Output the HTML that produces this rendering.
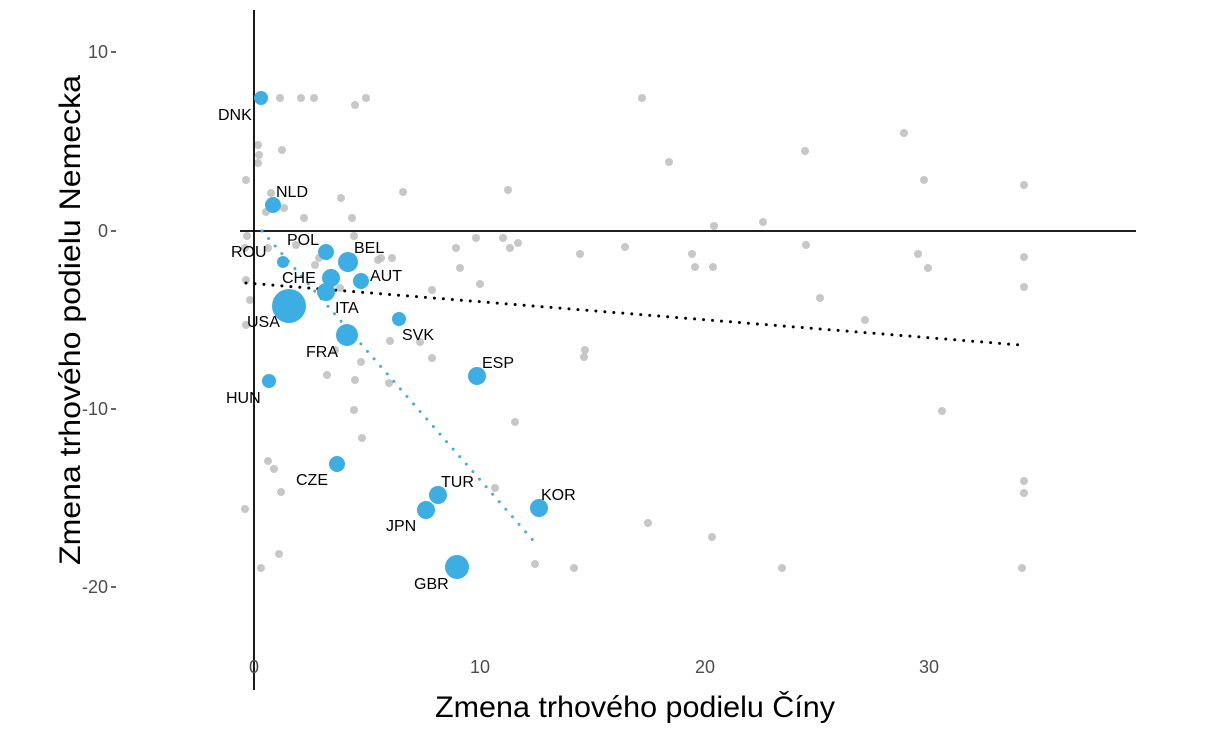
<!DOCTYPE html>
<html><head><meta charset="utf-8"><style>html,body{margin:0;padding:0;background:#fff}svg{display:block}</style></head><body>
<svg width="1224" height="731" xmlns="http://www.w3.org/2000/svg" font-family="Liberation Sans, sans-serif">
<rect width="1224" height="731" fill="#fff"/>
<g fill="#bdbdbd" fill-opacity="0.85">
<circle cx="280" cy="98" r="4"/><circle cx="301" cy="98" r="4"/><circle cx="314" cy="98" r="4"/><circle cx="355" cy="105" r="4"/><circle cx="366" cy="98" r="4"/><circle cx="642" cy="98" r="4"/><circle cx="904" cy="133" r="4"/><circle cx="805" cy="151" r="4"/><circle cx="669" cy="162" r="4"/><circle cx="924" cy="180" r="4"/><circle cx="1024" cy="185" r="4"/><circle cx="282" cy="150" r="4"/><circle cx="246" cy="180" r="4"/><circle cx="258" cy="145" r="4"/><circle cx="259" cy="155" r="4"/><circle cx="258" cy="163" r="4"/><circle cx="271" cy="193" r="4"/><circle cx="266" cy="212" r="4"/><circle cx="304" cy="218" r="4"/><circle cx="352" cy="218" r="4"/><circle cx="341" cy="198" r="4"/><circle cx="403" cy="192" r="4"/><circle cx="508" cy="190" r="4"/><circle cx="284" cy="208" r="4"/><circle cx="247" cy="236" r="4"/><circle cx="245" cy="248" r="4"/><circle cx="268" cy="248" r="4"/><circle cx="296" cy="245" r="4"/><circle cx="319" cy="258" r="4"/><circle cx="354" cy="236" r="4"/><circle cx="381" cy="258" r="4"/><circle cx="392" cy="258" r="4"/><circle cx="378" cy="260" r="4"/><circle cx="456" cy="248" r="4"/><circle cx="460" cy="268" r="4"/><circle cx="476" cy="238" r="4"/><circle cx="503" cy="238" r="4"/><circle cx="510" cy="248" r="4"/><circle cx="518" cy="243" r="4"/><circle cx="580" cy="254" r="4"/><circle cx="625" cy="247" r="4"/><circle cx="692" cy="254" r="4"/><circle cx="695" cy="267" r="4"/><circle cx="713" cy="267" r="4"/><circle cx="714" cy="226" r="4"/><circle cx="763" cy="222" r="4"/><circle cx="806" cy="245" r="4"/><circle cx="918" cy="254" r="4"/><circle cx="928" cy="268" r="4"/><circle cx="1024" cy="257" r="4"/><circle cx="1024" cy="287" r="4"/><circle cx="820" cy="298" r="4"/><circle cx="865" cy="320" r="4"/><circle cx="246" cy="280" r="4"/><circle cx="250" cy="300" r="4"/><circle cx="246" cy="325" r="4"/><circle cx="315" cy="265" r="4"/><circle cx="340" cy="288" r="4"/><circle cx="432" cy="290" r="4"/><circle cx="390" cy="341" r="4"/><circle cx="432" cy="358" r="4"/><circle cx="361" cy="362" r="4"/><circle cx="355" cy="380" r="4"/><circle cx="327" cy="375" r="4"/><circle cx="480" cy="284" r="4"/><circle cx="585" cy="350" r="4"/><circle cx="584" cy="357" r="4"/><circle cx="942" cy="411" r="4"/><circle cx="354" cy="410" r="4"/><circle cx="389" cy="383" r="4"/><circle cx="362" cy="438" r="4"/><circle cx="515" cy="422" r="4"/><circle cx="268" cy="461" r="4"/><circle cx="274" cy="469" r="4"/><circle cx="281" cy="492" r="4"/><circle cx="495" cy="488" r="4"/><circle cx="245" cy="509" r="4"/><circle cx="648" cy="523" r="4"/><circle cx="712" cy="537" r="4"/><circle cx="1024" cy="481" r="4"/><circle cx="1024" cy="493" r="4"/><circle cx="279" cy="554" r="4"/><circle cx="261" cy="568" r="4"/><circle cx="535" cy="564" r="4"/><circle cx="574" cy="568" r="4"/><circle cx="782" cy="568" r="4"/><circle cx="1022" cy="568" r="4"/><circle cx="335" cy="350" r="4"/><circle cx="420" cy="342" r="4"/>
</g>
<line x1="254" y1="10" x2="254" y2="690" stroke="#000" stroke-width="1.8"/>
<line x1="240" y1="231" x2="1136" y2="231" stroke="#000" stroke-width="1.8"/>
<line x1="246" y1="283" x2="1020" y2="345" stroke="#000" stroke-width="3" stroke-dasharray="0 9" stroke-linecap="round"/>
<line x1="262" y1="231" x2="538" y2="546" stroke="#3daee3" stroke-width="3" stroke-dasharray="0 10" stroke-linecap="round"/>
<g fill="#3daee3">
<circle cx="261" cy="98" r="7"/><circle cx="273" cy="205" r="8"/><circle cx="326" cy="252" r="8"/><circle cx="283" cy="262" r="6"/><circle cx="348" cy="262" r="10"/><circle cx="331" cy="278" r="9"/><circle cx="361" cy="281" r="8"/><circle cx="326" cy="292" r="9"/><circle cx="289" cy="306" r="17"/><circle cx="347" cy="335" r="11"/><circle cx="399" cy="319" r="7"/><circle cx="477" cy="376" r="9"/><circle cx="269" cy="381" r="7"/><circle cx="337" cy="464" r="8"/><circle cx="438" cy="495" r="9"/><circle cx="426" cy="510" r="9"/><circle cx="539" cy="508" r="9"/><circle cx="457" cy="567" r="12"/>
</g>
<g font-size="16" fill="#000">
<text x="218" y="120">DNK</text><text x="276" y="197">NLD</text><text x="287" y="245">POL</text><text x="231" y="257">ROU</text><text x="354" y="253">BEL</text><text x="282" y="283">CHE</text><text x="370" y="281">AUT</text><text x="335" y="313">ITA</text><text x="247" y="327">USA</text><text x="306" y="357">FRA</text><text x="402" y="340">SVK</text><text x="482" y="368">ESP</text><text x="226" y="403">HUN</text><text x="296" y="485">CZE</text><text x="441" y="487">TUR</text><text x="386" y="531">JPN</text><text x="541" y="500">KOR</text><text x="414" y="589">GBR</text>
</g>
<g font-size="18" fill="#4d4d4d" text-anchor="end">
<text x="108" y="58">10</text><text x="108" y="237">0</text><text x="108" y="415">-10</text><text x="108" y="593">-20</text>
</g>
<g stroke="#333" stroke-width="1.5"><line x1="111" y1="52" x2="116" y2="52"/><line x1="111" y1="231" x2="116" y2="231"/><line x1="111" y1="409" x2="116" y2="409"/><line x1="111" y1="587" x2="116" y2="587"/></g>
<g font-size="18" fill="#4d4d4d" text-anchor="middle">
<text x="254" y="673">0</text><text x="480" y="673">10</text><text x="705" y="673">20</text><text x="929" y="673">30</text>
</g>
<text x="635" y="717" font-size="30" text-anchor="middle" textLength="400" lengthAdjust="spacingAndGlyphs">Zmena trhového podielu Číny</text>
<text transform="translate(80,320) rotate(-90)" font-size="30" text-anchor="middle" textLength="490" lengthAdjust="spacingAndGlyphs">Zmena trhového podielu Nemecka</text>
</svg>
</body></html>
